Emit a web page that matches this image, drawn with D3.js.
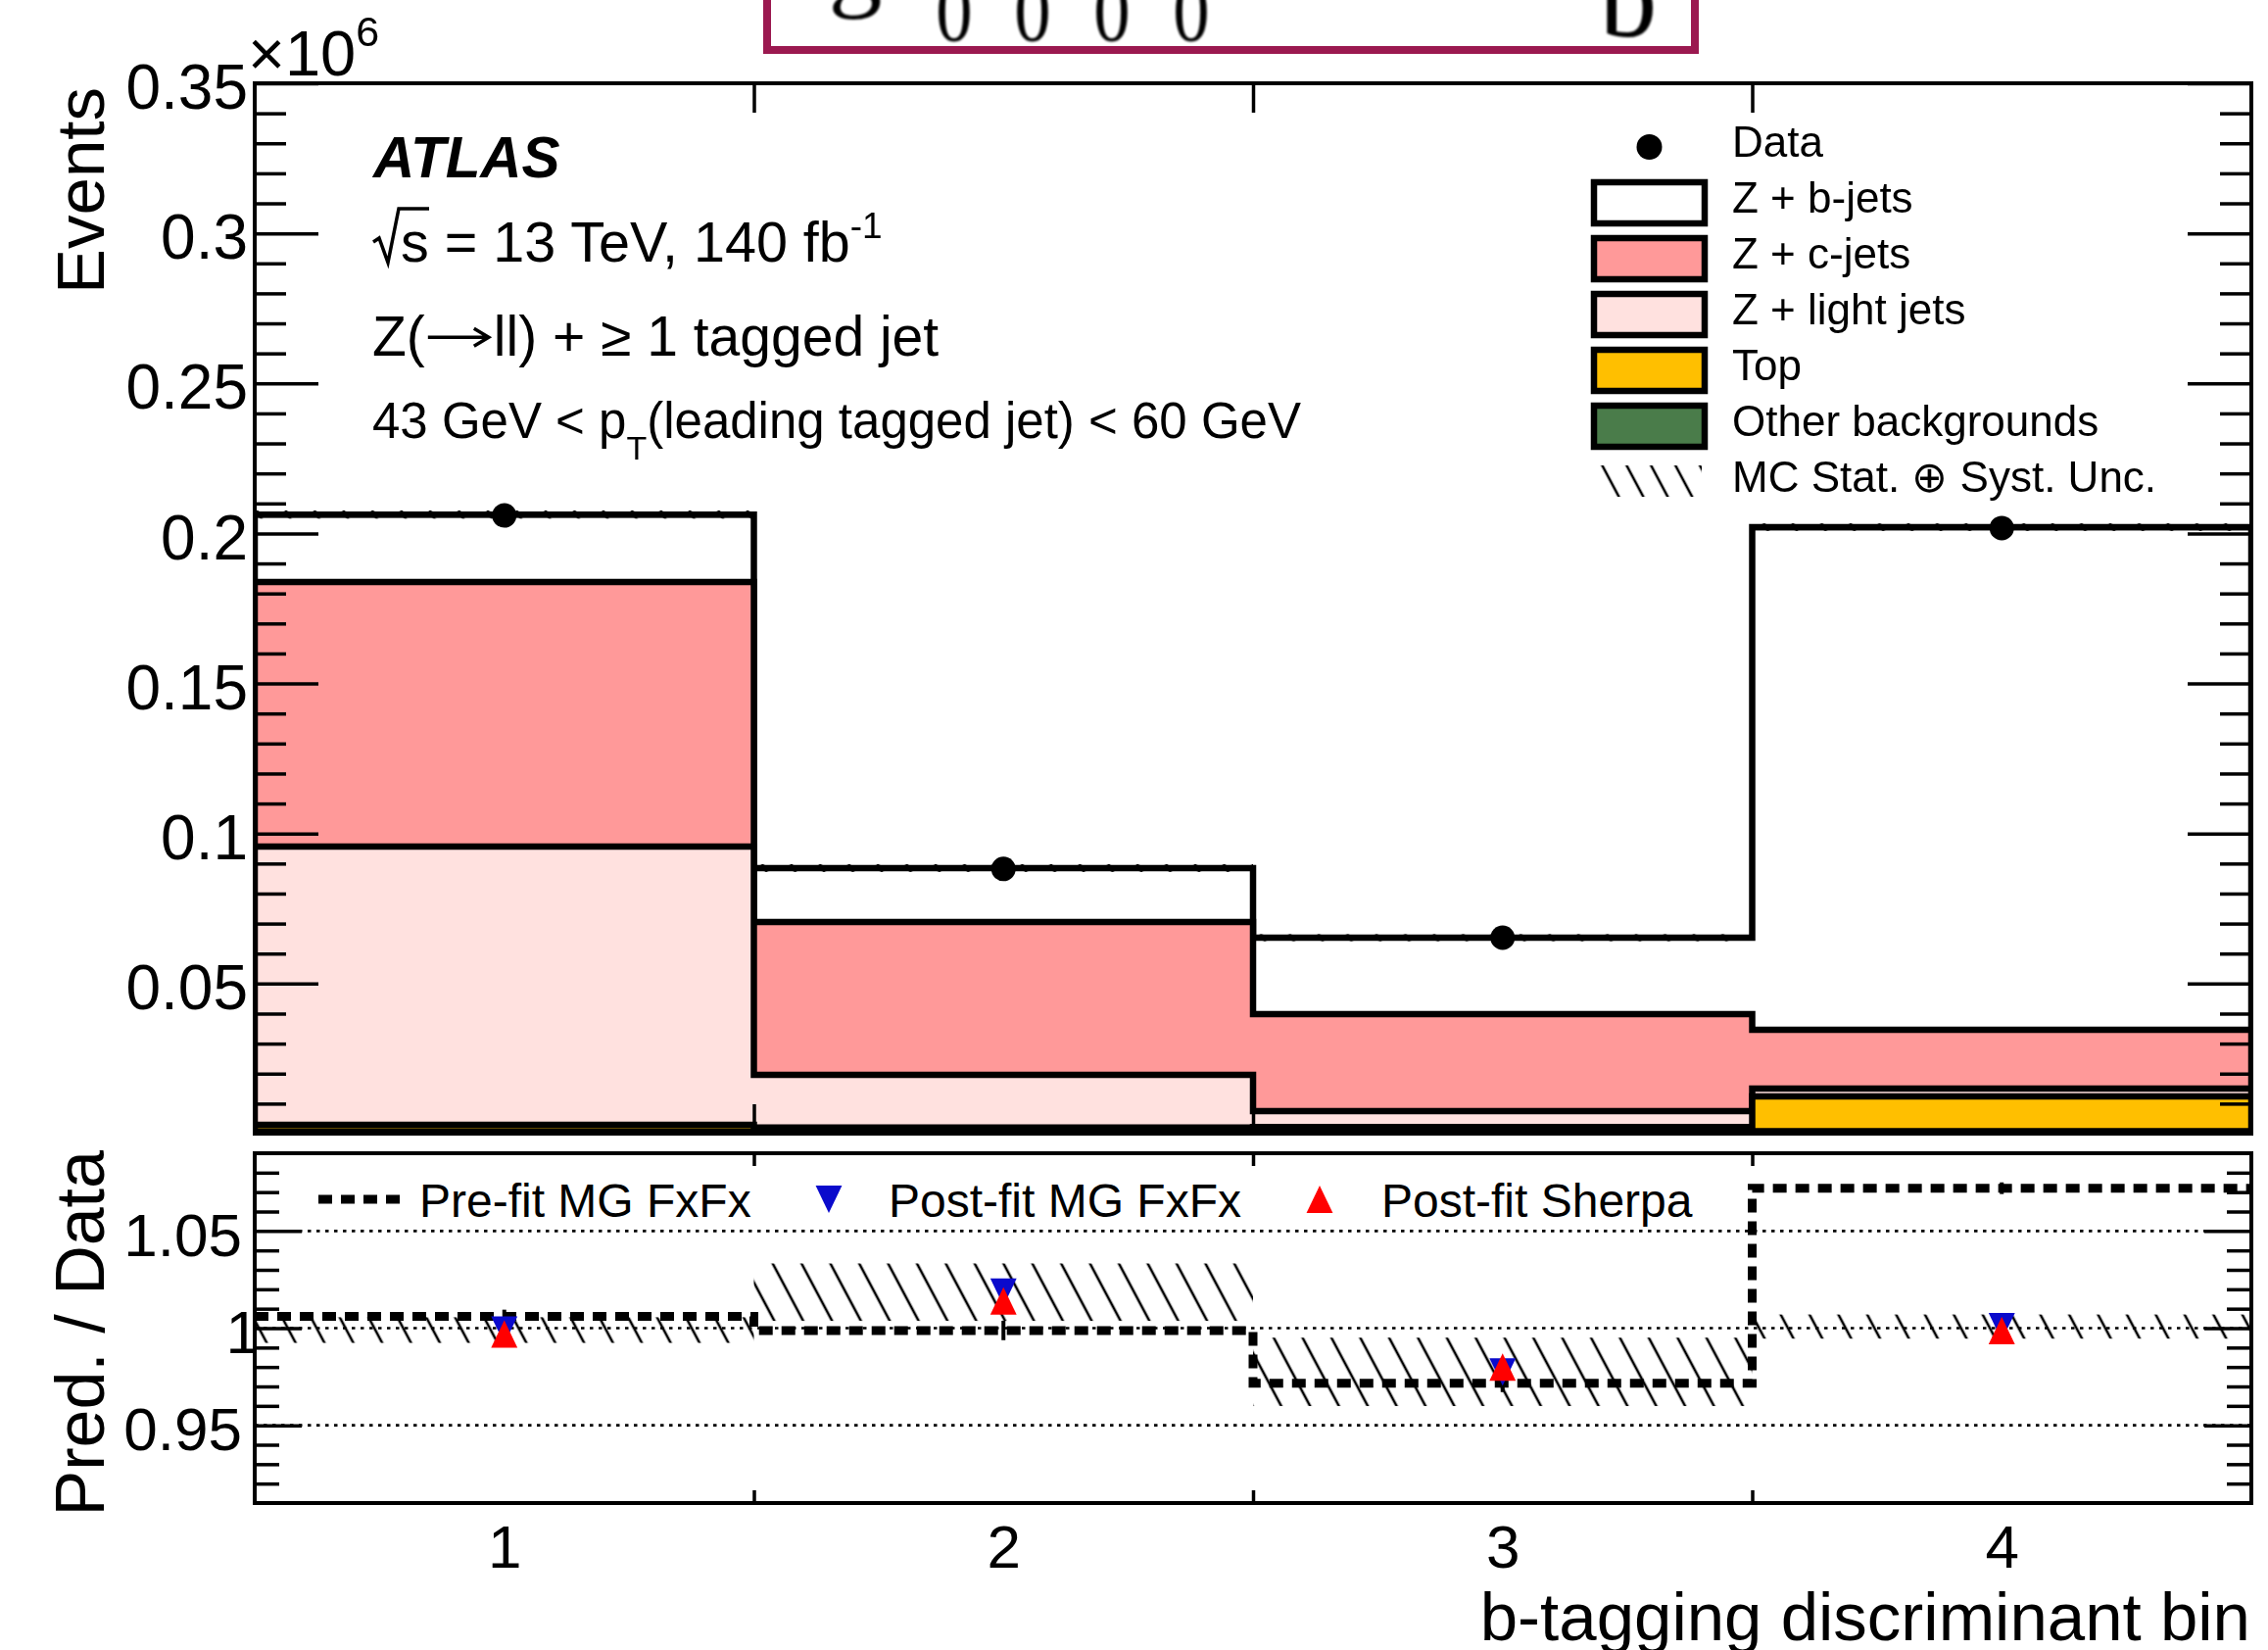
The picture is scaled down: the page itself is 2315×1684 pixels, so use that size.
<!DOCTYPE html>
<html>
<head>
<meta charset="utf-8">
<script src="https://cdn.jsdelivr.net/npm/d3@7"></script>
<style>
  html, body { margin: 0; padding: 0; background: #ffffff; }
  svg { display: block; }
</style>
</head>
<body>
<svg id="chart" width="2315" height="1684"></svg>
<script>
// ---------------- data (events in units of 10^6) ----------------
const binCenters = [1, 2, 3, 4];
const binEdges   = [0.5, 1.5, 2.5, 3.5, 4.5];
const binLabels  = ["1", "2", "3", "4"];

const dataEvents  = [0.2060, 0.0882, 0.0653, 0.2018];
const zbJets      = [0.0225, 0.0180, 0.0255, 0.1675];
const zcJets      = [0.0881, 0.0509, 0.0323, 0.0196];
const zlightJets  = [0.0928, 0.0176, 0.0053, 0.0026];
const topBkg      = [0.0022, 0.0014, 0.0016, 0.0116];
const otherBkg    = [0.0007, 0.0006, 0.0006, 0.0008];
const relUncertainty = [0.0066, 0.0145, 0.0180, 0.0062];

// ratio panel: prediction / data
const ratioPreFit        = [1.006, 0.9988, 0.9716, 1.072];
const ratioPreFitErr     = [0.0035, 0.005, 0.0045, 0.003];
const ratioPostFitMG     = [0.999, 1.0185, 0.9775, 1.0008];
const ratioPostFitSherpa = [0.997, 1.014, 0.980, 0.9988];

// axis ticks
const mainYTicks      = [0.05, 0.1, 0.15, 0.2, 0.25, 0.3, 0.35];
const mainYTickLabels = ["0.05", "0.1", "0.15", "0.2", "0.25", "0.3", "0.35"];
const ratioYTicks      = [0.95, 1, 1.05];
const ratioYTickLabels = ["0.95", "1", "1.05"];

const legendLabels = ["Data", "Z + b-jets", "Z + c-jets", "Z + light jets", "Top",
                      "Other backgrounds", "MC Stat. \u2295 Syst. Unc."];
const ratioLegendLabels = ["Pre-fit MG FxFx", "Post-fit MG FxFx", "Post-fit Sherpa"];

// ---------------- layout ----------------
const FONT = "'Liberation Sans', Arial, Helvetica, sans-serif";
const L = 260, R = 2298;
const mainTop = 85, mainBot = 1157;
const ratioTop = 1177, ratioBot = 1534;

const svg = d3.select("#chart");
const x = d3.scaleLinear().domain([binEdges[0], binEdges[binEdges.length - 1]]).range([L, R]);
const yMain = d3.scaleLinear().domain([0, 0.35]).range([mainBot, mainTop]);
const yRatio = d3.scaleLinear().domain([0.91, 1.09]).range([ratioBot, ratioTop]);

const colors = {
  b: "#ffffff", c: "#ff9999", light: "#ffe1df", top: "#ffbf00", other: "#4a7c4a",
  blue: "#0a0acc", red: "#ff0000"
};

// ---------------- defs ----------------
const defs = svg.append("defs");
function hatchPattern(id, spacing, width) {
  const p = defs.append("pattern").attr("id", id)
    .attr("patternUnits", "userSpaceOnUse")
    .attr("width", spacing).attr("height", spacing)
    .attr("patternTransform", "rotate(-28)");
  p.append("line").attr("x1", spacing / 2).attr("y1", -2)
    .attr("x2", spacing / 2).attr("y2", spacing + 2)
    .attr("stroke", "#000").attr("stroke-width", width);
}
hatchPattern("hatch", 26, 2.6);
hatchPattern("hatchLegend", 22, 2.6);

defs.append("clipPath").attr("id", "clipMain").append("rect")
  .attr("x", L).attr("y", mainTop).attr("width", R - L).attr("height", mainBot - mainTop);
defs.append("clipPath").attr("id", "clipRatio").append("rect")
  .attr("x", L).attr("y", ratioTop).attr("width", R - L).attr("height", ratioBot - ratioTop);
defs.append("filter").attr("id", "soft").append("feGaussianBlur").attr("stdDeviation", 1.3);

// ---------------- header box (cut by the page top) ----------------
const header = svg.append("g");
header.append("rect").attr("x", 783).attr("y", -30).attr("width", 947).attr("height", 81)
  .attr("fill", "#fff").attr("stroke", "#9b1950").attr("stroke-width", 8);
const headerText = header.append("g").attr("filter", "url(#soft)")
  .attr("font-family", "'Liberation Serif', 'Times New Roman', serif").attr("fill", "#000");
headerText.append("text").attr("x", 873).attr("y", -3).attr("font-size", 110)
  .attr("text-anchor", "middle").text("g");
[974, 1054, 1135, 1216].forEach(cx => {
  headerText.append("text").attr("x", cx).attr("y", 41).attr("font-size", 88)
    .attr("text-anchor", "middle").attr("transform", `translate(${cx},0) scale(0.85,1) translate(${-cx},0)`)
    .text("0");
});
headerText.append("text").attr("x", 1662).attr("y", 37).attr("font-size", 118)
  .attr("text-anchor", "middle").text("b");

// ---------------- helpers ----------------
const stepPoints = vals => vals.flatMap((v, i) => [[binEdges[i], v], [binEdges[i + 1], v]]);

function triangleSymbol(up) {
  return {
    draw(ctx, size) {
      const s = Math.sqrt(size);
      const hw = s * 0.48, hh = s * 0.5;
      if (up) {
        ctx.moveTo(0, -hh); ctx.lineTo(hw, hh); ctx.lineTo(-hw, hh);
      } else {
        ctx.moveTo(0, hh); ctx.lineTo(hw, -hh); ctx.lineTo(-hw, -hh);
      }
      ctx.closePath();
    }
  };
}
const triUp = d3.symbol().type(triangleSymbol(true)).size(28 * 28);
const triDown = d3.symbol().type(triangleSymbol(false)).size(28 * 28);

function styleAxis(g, fontSize) {
  g.select(".domain").remove();
  g.selectAll(".tick line").attr("stroke", "#000").attr("stroke-width", 3.5);
  g.selectAll(".tick text").attr("font-family", FONT).attr("font-size", fontSize).attr("fill", "#000");
  return g;
}

// ---------------- main panel ----------------
const stackKeys = ["other", "top", "light", "c", "b"];
const stackRows = binCenters.map((b, i) => ({
  other: otherBkg[i], top: topBkg[i], light: zlightJets[i], c: zcJets[i], b: zbJets[i]
}));
const series = d3.stack().keys(stackKeys)(stackRows);
const totals = series[series.length - 1].map(d => d[1]);

const area = d3.area().x(d => x(d[0])).y0(yMain(0)).y1(d => yMain(d[1]));

const gMain = svg.append("g").attr("clip-path", "url(#clipMain)");
// largest cumulative first, smaller ones drawn over it
series.slice().reverse().forEach(s => {
  gMain.append("path")
    .datum(stepPoints(s.map(d => d[1])))
    .attr("d", area)
    .attr("fill", colors[s.key])
    .attr("stroke", "#000")
    .attr("stroke-width", 6.5)
    .attr("stroke-linejoin", "miter");
});

// MC uncertainty band
gMain.selectAll("rect.unc").data(totals).join("rect").attr("class", "unc")
  .attr("x", (d, i) => x(binEdges[i]))
  .attr("width", (d, i) => x(binEdges[i + 1]) - x(binEdges[i]))
  .attr("y", (d, i) => yMain(d * (1 + relUncertainty[i])))
  .attr("height", (d, i) => yMain(d * (1 - relUncertainty[i])) - yMain(d * (1 + relUncertainty[i])))
  .attr("fill", "url(#hatch)");

// data: bin-width bars and markers
gMain.selectAll("line.dataerr").data(dataEvents).join("line").attr("class", "dataerr")
  .attr("x1", (d, i) => x(binEdges[i])).attr("x2", (d, i) => x(binEdges[i + 1]))
  .attr("y1", d => yMain(d)).attr("y2", d => yMain(d))
  .attr("stroke", "#000").attr("stroke-width", 4.5);
gMain.selectAll("circle.data").data(dataEvents).join("circle").attr("class", "data")
  .attr("cx", (d, i) => x(binCenters[i])).attr("cy", d => yMain(d))
  .attr("r", 12.5).attr("fill", "#000");

// main axes
const mainMinor = d3.range(1, 35).filter(k => k % 5 !== 0).map(k => k / 100);
styleAxis(svg.append("g").attr("transform", `translate(${L},0)`)
  .call(d3.axisLeft(yMain).tickValues(mainMinor).tickSize(-32).tickFormat("")), 64);
const yLeftMajor = styleAxis(svg.append("g").attr("transform", `translate(${L},0)`)
  .call(d3.axisLeft(yMain).tickValues(mainYTicks).tickSize(-65).tickPadding(7)
    .tickFormat((d, i) => mainYTickLabels[i])), 64);
yLeftMajor.selectAll(".tick text").attr("dy", "0.40em");
styleAxis(svg.append("g").attr("transform", `translate(${R},0)`)
  .call(d3.axisRight(yMain).tickValues(mainMinor).tickSize(-32).tickFormat("")), 64);
styleAxis(svg.append("g").attr("transform", `translate(${R},0)`)
  .call(d3.axisRight(yMain).tickValues(mainYTicks).tickSize(-65).tickFormat("")), 64);
const innerEdges = binEdges.slice(1, -1);
styleAxis(svg.append("g").attr("transform", `translate(0,${mainTop})`)
  .call(d3.axisTop(x).tickValues(innerEdges).tickSize(-30).tickFormat("")), 60);
styleAxis(svg.append("g").attr("transform", `translate(0,${mainBot})`)
  .call(d3.axisBottom(x).tickValues(innerEdges).tickSize(-30).tickFormat("")), 60);

svg.append("rect").attr("x", L).attr("y", mainTop).attr("width", R - L).attr("height", mainBot - mainTop)
  .attr("fill", "none").attr("stroke", "#000").attr("stroke-width", 4);

// axis title and multiplier
svg.append("text").attr("transform", `translate(106,89) rotate(-90)`)
  .attr("text-anchor", "end").attr("font-family", FONT).attr("font-size", 69).text("Events");
const mult = svg.append("text").attr("x", 253).attr("y", 77).attr("font-family", FONT).attr("font-size", 65);
mult.append("tspan").text("\u00d710");
mult.append("tspan").attr("font-size", 43).attr("dy", -30).text("6");

// labels
svg.append("text").attr("x", 381).attr("y", 181).attr("font-family", FONT)
  .attr("font-size", 58.5).attr("font-weight", "bold").attr("font-style", "italic").text("ATLAS");
svg.append("path").attr("d", "M381,247 L387,243 L396,268 L407,213 L438,213")
  .attr("fill", "none").attr("stroke", "#000").attr("stroke-width", 3.5).attr("stroke-linejoin", "miter");
const lumi = svg.append("text").attr("x", 409).attr("y", 267).attr("font-family", FONT).attr("font-size", 57.5);
lumi.append("tspan").text("s = 13 TeV, 140 fb");
lumi.append("tspan").attr("font-size", 37).attr("dy", -24).text("-1");

// Z(->ll) line: the arrow is drawn as a path between two text pieces
const zY = 363, zSize = 57;
const zA = svg.append("text").attr("x", 380).attr("y", zY).attr("font-family", FONT)
  .attr("font-size", zSize).text("Z(");
const zAEnd = 380 + zA.node().getComputedTextLength();
const arrowY = zY - zSize * 0.33;
svg.append("path")
  .attr("d", `M${zAEnd + 3},${arrowY} L${zAEnd + 64},${arrowY} M${zAEnd + 50},${arrowY - 9} L${zAEnd + 65},${arrowY} L${zAEnd + 50},${arrowY + 9}`)
  .attr("fill", "none").attr("stroke", "#000").attr("stroke-width", 3.5);
svg.append("text").attr("x", zAEnd + 70).attr("y", zY).attr("font-family", FONT)
  .attr("font-size", zSize).text("ll) + \u2265 1 tagged jet");

const ptLine = svg.append("text").attr("x", 380).attr("y", 447).attr("font-family", FONT).attr("font-size", 51);
ptLine.append("tspan").text("43 GeV < p");
ptLine.append("tspan").attr("font-size", 34).attr("dy", 22).text("T");
ptLine.append("tspan").attr("dy", -22).text("(leading tagged jet) < 60 GeV");

// legend
const legX = 1627, legW = 113, legH = 42, legTextX = 1768;
const legRowY = i => 150 + i * 57;
const legendFills = [null, colors.b, colors.c, colors.light, colors.top, colors.other, null];
const gLeg = svg.append("g");
legendLabels.forEach((lab, i) => {
  const cy = legRowY(i);
  if (i === 0) {
    gLeg.append("circle").attr("cx", legX + legW / 2).attr("cy", cy).attr("r", 13).attr("fill", "#000");
  } else if (i === legendLabels.length - 1) {
    gLeg.append("rect").attr("x", legX + 5).attr("y", cy - 17).attr("width", legW - 8).attr("height", 32)
      .attr("fill", "url(#hatchLegend)");
  } else {
    gLeg.append("rect").attr("x", legX).attr("y", cy - legH / 2).attr("width", legW).attr("height", legH)
      .attr("fill", legendFills[i]).attr("stroke", "#000").attr("stroke-width", 6.5);
  }
  gLeg.append("text").attr("x", legTextX).attr("y", cy + 10).attr("font-family", FONT)
    .attr("font-size", 44).text(lab);
});

// ---------------- ratio panel ----------------
const gRatio = svg.append("g").attr("clip-path", "url(#clipRatio)");
gRatio.selectAll("line.ref").data(ratioYTicks).join("line").attr("class", "ref")
  .attr("x1", L).attr("x2", R).attr("y1", d => yRatio(d)).attr("y2", d => yRatio(d))
  .attr("stroke", "#000").attr("stroke-width", 2.6).attr("stroke-dasharray", "3.5,5.5");

gRatio.selectAll("rect.band").data(ratioPostFitMG).join("rect").attr("class", "band")
  .attr("x", (d, i) => x(binEdges[i]))
  .attr("width", (d, i) => x(binEdges[i + 1]) - x(binEdges[i]))
  .attr("y", (d, i) => yRatio(d * (1 + relUncertainty[i])))
  .attr("height", (d, i) => yRatio(d * (1 - relUncertainty[i])) - yRatio(d * (1 + relUncertainty[i])))
  .attr("fill", "url(#hatch)");

const stepLine = d3.line().x(d => x(d[0])).y(d => yRatio(d[1]));
gRatio.append("path").datum(stepPoints(ratioPreFit)).attr("d", stepLine)
  .attr("fill", "none").attr("stroke", "#000").attr("stroke-width", 9).attr("stroke-dasharray", "14,9");
gRatio.selectAll("line.preerr").data(ratioPreFit).join("line").attr("class", "preerr")
  .attr("x1", (d, i) => x(binCenters[i])).attr("x2", (d, i) => x(binCenters[i]))
  .attr("y1", (d, i) => yRatio(d + ratioPreFitErr[i])).attr("y2", (d, i) => yRatio(d - ratioPreFitErr[i]))
  .attr("stroke", "#000").attr("stroke-width", 4);

gRatio.selectAll("path.mg").data(ratioPostFitMG).join("path").attr("class", "mg")
  .attr("d", triDown).attr("fill", colors.blue)
  .attr("transform", (d, i) => `translate(${x(binCenters[i])},${yRatio(d)})`);
gRatio.selectAll("path.sherpa").data(ratioPostFitSherpa).join("path").attr("class", "sherpa")
  .attr("d", triUp).attr("fill", colors.red)
  .attr("transform", (d, i) => `translate(${x(binCenters[i])},${yRatio(d)})`);

// ratio axes
const ratioMinor = d3.range(92, 109).filter(k => k % 5 !== 0).map(k => k / 100);
styleAxis(svg.append("g").attr("transform", `translate(${L},0)`)
  .call(d3.axisLeft(yRatio).tickValues(ratioMinor).tickSize(-25).tickFormat("")), 62);
const rLeftMajor = styleAxis(svg.append("g").attr("transform", `translate(${L},0)`)
  .call(d3.axisLeft(yRatio).tickValues(ratioYTicks).tickSize(-48).tickPadding(13)
    .tickFormat((d, i) => ratioYTickLabels[i])), 62);
rLeftMajor.selectAll(".tick text").attr("dy", "0.40em").attr("x", d => d === 1 ? 5 : -13);
styleAxis(svg.append("g").attr("transform", `translate(${R},0)`)
  .call(d3.axisRight(yRatio).tickValues(ratioMinor).tickSize(-25).tickFormat("")), 62);
styleAxis(svg.append("g").attr("transform", `translate(${R},0)`)
  .call(d3.axisRight(yRatio).tickValues(ratioYTicks).tickSize(-48).tickFormat("")), 62);
styleAxis(svg.append("g").attr("transform", `translate(0,${ratioTop})`)
  .call(d3.axisTop(x).tickValues(innerEdges).tickSize(-13).tickFormat("")), 60);
styleAxis(svg.append("g").attr("transform", `translate(0,${ratioBot})`)
  .call(d3.axisBottom(x).tickValues(innerEdges).tickSize(-13).tickFormat("")), 60);
styleAxis(svg.append("g").attr("transform", `translate(0,${ratioBot})`)
  .call(d3.axisBottom(x).tickValues(binCenters).tickSize(0).tickPadding(22)
    .tickFormat((d, i) => binLabels[i])), 62);

svg.append("rect").attr("x", L).attr("y", ratioTop).attr("width", R - L).attr("height", ratioBot - ratioTop)
  .attr("fill", "none").attr("stroke", "#000").attr("stroke-width", 4);

svg.append("text").attr("transform", `translate(106,1174) rotate(-90)`)
  .attr("text-anchor", "end").attr("font-family", FONT).attr("font-size", 70).text("Pred. / Data");
svg.append("text").attr("x", 2297).attr("y", 1674).attr("text-anchor", "end")
  .attr("font-family", FONT).attr("font-size", 69).text("b-tagging discriminant bin");

// ratio legend
const rl = svg.append("g");
rl.append("line").attr("x1", 325).attr("x2", 409).attr("y1", 1224).attr("y2", 1224)
  .attr("stroke", "#000").attr("stroke-width", 9).attr("stroke-dasharray", "14,9");
rl.append("text").attr("x", 428).attr("y", 1242).attr("font-family", FONT).attr("font-size", 48)
  .text(ratioLegendLabels[0]);
rl.append("path").attr("d", triDown).attr("fill", colors.blue).attr("transform", "translate(846,1224)");
rl.append("text").attr("x", 907).attr("y", 1242).attr("font-family", FONT).attr("font-size", 48)
  .text(ratioLegendLabels[1]);
rl.append("path").attr("d", triUp).attr("fill", colors.red).attr("transform", "translate(1347,1224)");
rl.append("text").attr("x", 1410).attr("y", 1242).attr("font-family", FONT).attr("font-size", 48)
  .text(ratioLegendLabels[2]);
</script>
</body>
</html>
